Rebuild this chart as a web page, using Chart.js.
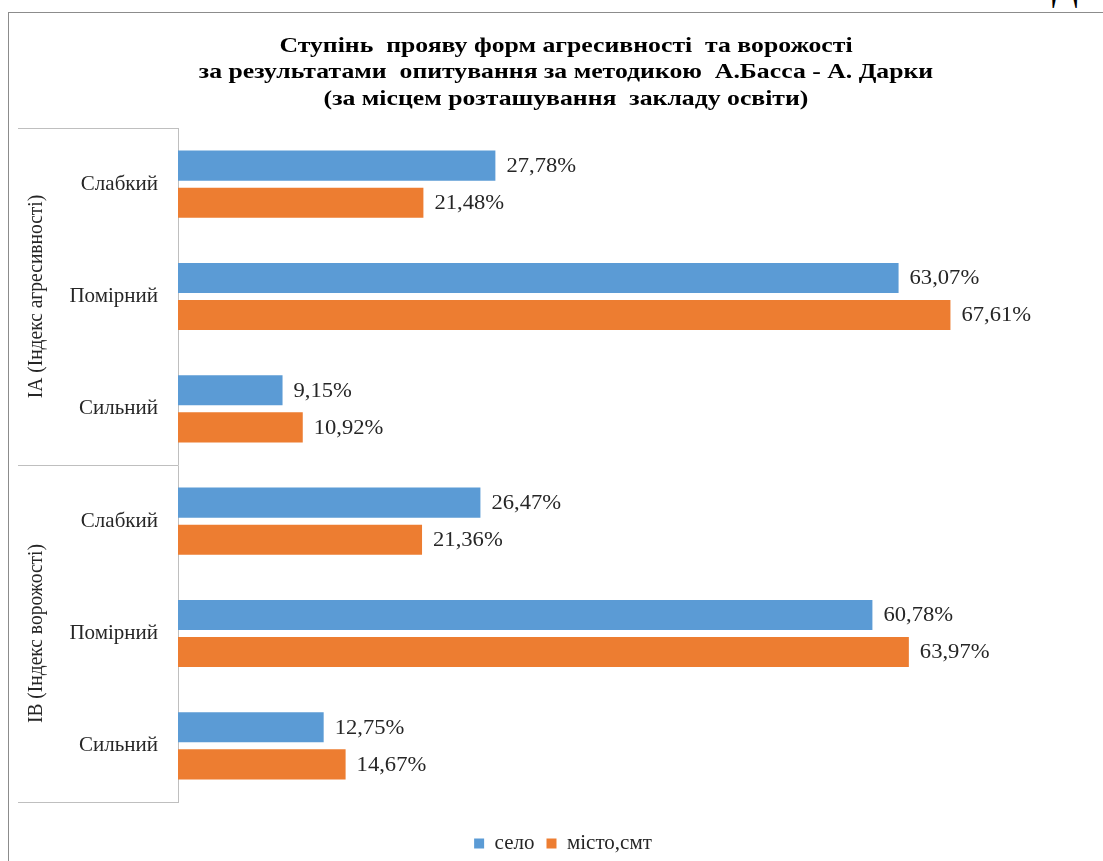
<!DOCTYPE html>
<html>
<head>
<meta charset="utf-8">
<script src="https://cdn.jsdelivr.net/npm/chart.js@4.4.1/dist/chart.umd.min.js"></script>
<style>
  html, body { margin: 0; padding: 0; width: 1103px; height: 861px; overflow: hidden; background: #fff; }
  #frame { position: absolute; left: 8px; top: 12px; width: 1110px; height: 880px; border: 1px solid #8c8c8c; }
  #cut { position: absolute; left: 1052px; top: -32px; font: 38px 'Liberation Serif', serif; color: #000; line-height: 1; white-space: nowrap; }
</style>
</head>
<body>
<div id="cut">Діаграма</div>
<div id="frame"><canvas id="c" width="1108" height="880"></canvas></div>
<script>
const titleLines = ['Ступінь  прояву форм агресивності  та ворожості', 'за результатами  опитування за методикою  А.Басса - А. Дарки', '(за місцем розташування  закладу освіти)'];
const categories = ['Слабкий', 'Помірний', 'Сильний', 'Слабкий', 'Помірний', 'Сильний'];
const groups = ['IA (Індекс агресивності)', 'IB (Індекс ворожості)'];
const seloValues = [27.78, 63.07, 9.15, 26.47, 60.78, 12.75];
const mistoValues = [21.48, 67.61, 10.92, 21.36, 63.97, 14.67];
const seriesNames = ['село', 'місто,смт'];

const serif = "'Liberation Serif', 'Times New Roman', serif";
const TEXT_COLOR = '#262626';

const stretchedTitle = {
  id: 'stretchedTitle',
  afterDraw(chart) {
    const ctx = chart.ctx;
    const cx = chart.width / 2 + 3;
    ctx.save();
    ctx.font = 'bold 22px ' + serif;
    ctx.fillStyle = '#000';
    ctx.textAlign = 'center';
    ctx.textBaseline = 'middle';
    titleLines.forEach((t, i) => {
      ctx.save();
      ctx.translate(cx, 33 + i * 26.5);
      ctx.scale(1.17, 1);
      ctx.fillText(t, 0, 0);
      ctx.restore();
    });
    ctx.restore();
  }
};

const valueLabels = {
  id: 'valueLabels',
  afterDatasetsDraw(chart) {
    const ctx = chart.ctx;
    ctx.save();
    ctx.font = '20px ' + serif;
    ctx.fillStyle = TEXT_COLOR;
    ctx.textAlign = 'left';
    ctx.textBaseline = 'middle';
    chart.data.datasets.forEach((ds, di) => {
      chart.getDatasetMeta(di).data.forEach((el, i) => {
        ctx.save();
        ctx.translate(el.x + 11, el.y + 1);
        ctx.scale(1.13, 1);
        ctx.fillText(ds.data[i].toFixed(2).replace('.', ',') + '%', 0, 0);
        ctx.restore();
      });
    });
    ctx.restore();
  }
};

const groupAxis = {
  id: 'groupAxis',
  afterDraw(chart) {
    const ctx = chart.ctx;
    const y = chart.scales.y;
    const top = y.top, bottom = y.bottom;
    const mid = (y.getPixelForValue(2) + y.getPixelForValue(3)) / 2;
    ctx.save();
    ctx.strokeStyle = '#bfbfbf';
    ctx.lineWidth = 1;
    [top, mid, bottom].forEach(py => {
      ctx.beginPath();
      ctx.moveTo(9, Math.round(py) + 0.5);
      ctx.lineTo(chart.chartArea.left, Math.round(py) + 0.5);
      ctx.stroke();
    });
    ctx.font = '19.5px ' + serif;
    ctx.fillStyle = TEXT_COLOR;
    ctx.textAlign = 'center';
    ctx.textBaseline = 'middle';
    const centers = [(top + mid) / 2, (mid + bottom) / 2];
    groups.forEach((g, i) => {
      ctx.save();
      ctx.translate(27, centers[i]);
      ctx.rotate(-Math.PI / 2);
      ctx.scale(1, 1.1);
      ctx.fillText(g, 0, 0);
      ctx.restore();
    });
    ctx.restore();
  }
};

new Chart(document.getElementById('c'), {
  type: 'bar',
  data: {
    labels: categories,
    datasets: [
      { label: seriesNames[0], data: seloValues, backgroundColor: '#5b9bd5', borderWidth: 0 },
      { label: seriesNames[1], data: mistoValues, backgroundColor: '#ed7d31', borderWidth: 0 }
    ]
  },
  options: {
    indexAxis: 'y',
    responsive: false,
    animation: false,
    devicePixelRatio: 1,
    layout: { padding: { left: 25, right: 25, top: 115, bottom: 29 } },
    datasets: { bar: { categoryPercentage: 0.66, barPercentage: 0.81 } },
    scales: {
      x: {
        display: true, min: 0, max: 80,
        afterFit(scale) { scale.height = 19; },
        ticks: { display: false },
        grid: { display: false, drawTicks: false },
        border: { display: false }
      },
      y: {
        afterFit(scale) { scale.width = 144; },
        grid: { display: false, drawTicks: false },
        border: { display: true, color: '#bfbfbf', width: 1 },
        ticks: { font: { family: serif, size: 21 }, color: TEXT_COLOR, padding: 20 }
      }
    },
    plugins: {
      title: { display: false },
      legend: {
        position: 'bottom',
        labels: { boxWidth: 10, boxHeight: 10, font: { family: serif, size: 21 }, color: TEXT_COLOR, padding: 12 }
      },
      tooltip: { enabled: false }
    }
  },
  plugins: [valueLabels, groupAxis, stretchedTitle]
});
</script>
</body>
</html>
